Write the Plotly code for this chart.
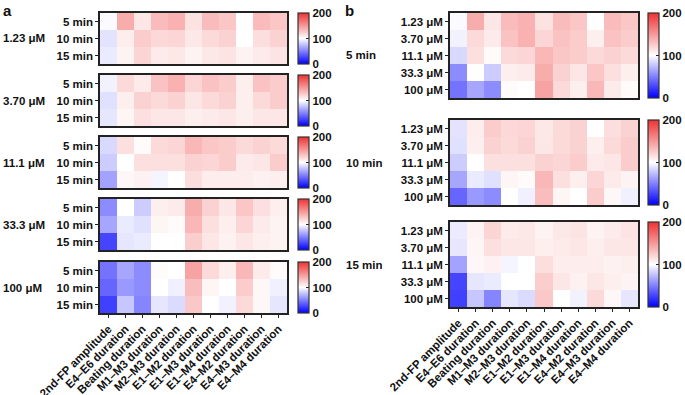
import plotly.graph_objects as go

params = ["2nd-FP amplitude", "E4–E6 duration", "Beating duration", "M1–M3 duration",
          "M2–M3 duration", "E1–M2 duration", "E1–M3 duration", "E1–M4 duration",
          "E4–M2 duration", "E4–M3 duration", "E4–M4 duration"]
concs = ["1.23 μM", "3.70 μM", "11.1 μM", "33.3 μM", "100 μM"]
times = ["5 min", "10 min", "15 min"]

# values[conc] -> rows for 5, 10, 15 min (percent of baseline)
c_1_23 = [[98, 140, 112, 133, 138, 114, 133, 128, 100, 133, 128],
          [89, 109, 125, 119, 120, 111, 118, 122, 100, 116, 122],
          [92, 106, 121, 110, 111, 106, 111, 113, 106, 110, 113]]
c_3_70 = [[95, 118, 110, 130, 138, 120, 130, 125, 108, 130, 125],
          [88, 108, 122, 118, 122, 112, 118, 122, 108, 118, 125],
          [90, 105, 115, 112, 112, 108, 110, 112, 108, 112, 112]]
c_11_1 = [[85, 115, 102, 118, 120, 135, 128, 125, 118, 122, 118],
          [80, 100, 115, 115, 115, 122, 120, 125, 110, 112, 125],
          [64, 104, 107, 96, 100, 116, 109, 109, 109, 107, 108]]
c_33_3 = [[55, 100, 80, 108, 110, 140, 122, 112, 128, 115, 108],
          [65, 92, 88, 105, 102, 135, 115, 108, 120, 110, 106],
          [27, 90, 92, 100, 100, 124, 112, 107, 112, 108, 106]]
c_100 = [[45, 65, 55, 102, 100, 145, 118, 108, 135, 110, 102],
         [40, 60, 55, 100, 94, 132, 105, 100, 125, 104, 94],
         [25, 78, 52, 90, 86, 127, 100, 95, 118, 104, 90]]
values = [c_1_23, c_3_70, c_11_1, c_33_3, c_100]

cbar_ticks = [0, 100, 200]

W, H = 685, 395
FONT = "Liberation Sans"
colorscale = [[0, "rgb(0,0,255)"], [0.5, "rgb(255,255,255)"], [1, "rgb(238,50,50)"]]

fig = go.Figure()
layout = {}

def add_heat(idx, z, rows, x0, x1, top, bot, cbx, show_x):
    xa = "x" if idx == 1 else f"x{idx}"
    ya = "y" if idx == 1 else f"y{idx}"
    fig.add_trace(go.Heatmap(
        z=z, x=params, y=rows, xaxis=xa, yaxis=ya,
        zmin=0, zmax=200, colorscale=colorscale,
        colorbar=dict(
            x=cbx / W, xanchor="left", xref="container",
            y=1 - top / H, yanchor="top", yref="container",
            len=(bot - top), lenmode="pixels", thickness=11, thicknessmode="pixels",
            outlinewidth=1.2, outlinecolor="#333",
            tickvals=cbar_ticks, ticktext=[str(t) for t in cbar_ticks],
            ticks="inside", ticklen=3, tickcolor="#222",
            tickfont=dict(family=FONT, size=11.5, color="#111", weight="bold"),
            xpad=0, ypad=0,
        ),
        hoverinfo="skip",
    ))
    kx = "xaxis" if idx == 1 else f"xaxis{idx}"
    ky = "yaxis" if idx == 1 else f"yaxis{idx}"
    layout[kx] = dict(
        domain=[x0 / W, x1 / W], anchor=ya, type="category", automargin=False,
        showline=True, mirror=True, linecolor="#222", linewidth=1.5,
        showgrid=False, zeroline=False,
        ticks="outside" if show_x else "", ticklen=3, tickcolor="#222",
        showticklabels=show_x, tickangle=-45,
        tickfont=dict(family=FONT, size=11.5, color="#111", weight="bold"),
    )
    layout[ky] = dict(
        domain=[1 - bot / H, 1 - top / H], anchor=xa, type="category", automargin=False,
        autorange="reversed",
        showline=True, mirror=True, linecolor="#222", linewidth=1.5,
        showgrid=False, zeroline=False,
        ticks="outside", ticklen=3, tickcolor="#222",
        tickfont=dict(family=FONT, size=11.5, color="#111", weight="bold"),
    )

annotations = []
# panel a
a_tops = [13, 75, 137, 199, 262]
for i, c in enumerate(concs):
    top = a_tops[i]
    bot = top + 51
    add_heat(i + 1, values[i], times, 100, 287, top, bot, 298, i == len(concs) - 1)
    annotations.append(dict(x=1 / W, y=1 - (top + bot) / 2 / H, xref="paper", yref="paper",
                            text=c, showarrow=False, xanchor="left", yanchor="middle",
                            font=dict(family=FONT, size=11.5, color="#111", weight="bold")))
# panel b
b_tops = [13, 120, 222]
for j, t in enumerate(times):
    top = b_tops[j]
    bot = top + 85
    z = [values[i][j] for i in range(len(concs))]
    add_heat(6 + j, z, concs, 450, 638, top, bot, 648, j == len(times) - 1)
    annotations.append(dict(x=344 / W, y=1 - (top + bot) / 2 / H, xref="paper", yref="paper",
                            text=t, showarrow=False, xanchor="left", yanchor="middle",
                            font=dict(family=FONT, size=11.5, color="#111", weight="bold")))

annotations.append(dict(x=1 / W, y=1, xref="paper", yref="paper", text="a",
                        showarrow=False, xanchor="left", yanchor="top",
                        font=dict(family=FONT, size=15, color="#111", weight="bold")))
annotations.append(dict(x=343 / W, y=1, xref="paper", yref="paper", text="b",
                        showarrow=False, xanchor="left", yanchor="top",
                        font=dict(family=FONT, size=15, color="#111", weight="bold")))

fig.update_layout(
    width=W, height=H, margin=dict(l=0, r=0, t=0, b=0, autoexpand=False),
    paper_bgcolor="white", plot_bgcolor="white",
    annotations=annotations, showlegend=False,
    **layout,
)
fig.write_html("out.html", config={"displayModeBar": False},
               post_script="document.body.style.margin='0px';document.body.style.overflow='hidden';")
